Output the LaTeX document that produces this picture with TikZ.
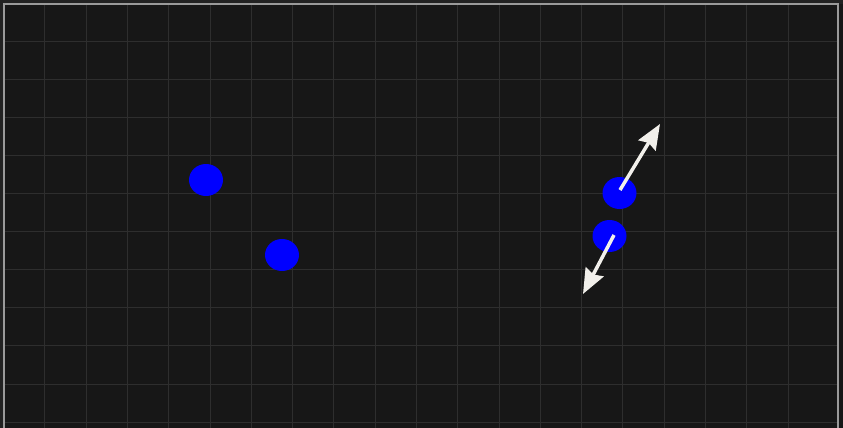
\documentclass[tikz,border=0pt]{standalone}
\usetikzlibrary{arrows.meta,shapes.geometric}
\definecolor{bgout}{HTML}{222222}
\definecolor{bgin}{HTML}{171717}
\definecolor{gridc}{HTML}{2E2E2E}
\definecolor{framec}{HTML}{9A9A9A}
\definecolor{dotc}{HTML}{0000FF}
\definecolor{arrc}{HTML}{F2F0EB}
\tikzset{
  dot/.style={ellipse, fill=dotc, draw=none, minimum width=34pt, minimum height=32pt, inner sep=0pt},
  vec/.style={draw=arrc, line width=3.5pt, -{Stealth[length=25pt,width=20pt,inset=3pt]}},
  gridline/.style={draw=gridc, line width=1pt}
}
\begin{document}
\begin{tikzpicture}[x=1pt,y=-1pt]
\useasboundingbox (0,0) rectangle (843,428);
\fill[bgout] (0,0) rectangle (843,428);
\fill[bgin] (4,4) rectangle (843,428);
\foreach \i in {1,...,19} {
  \draw[gridline] ({3.7+41.28*\i},4) -- ({3.7+41.28*\i},428);
}
\foreach \j in {1,...,11} {
  \draw[gridline] (4,{3+38.1*\j}) -- (838,{3+38.1*\j});
}
\draw[draw=framec, line width=2pt] (4,440) -- (4,4) -- (838,4) -- (838,440);
\node[dot] (d1) at (206,180) {};
\node[dot] (d2) at (282,255) {};
\node[dot] (d3) at (619.5,193) {};
\node[dot] (d4) at (609.5,236) {};
\coordinate (t1) at (660,124);
\coordinate (t2) at (583,294);
\draw[vec] ([shift={(0.5,-3)}]d3.center) -- (t1);
\draw[vec] ([shift={(4.5,-1)}]d4.center) -- (t2);
\end{tikzpicture}
\end{document}
